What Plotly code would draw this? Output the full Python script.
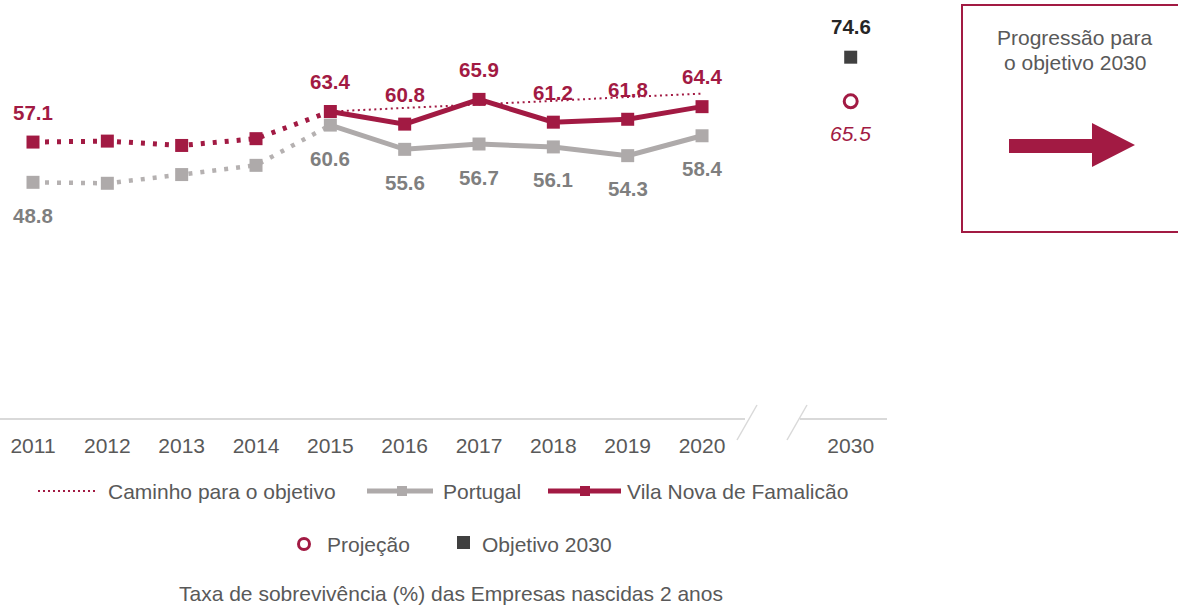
import plotly.graph_objects as go

# ---------------- data ----------------
years = ["2011", "2012", "2013", "2014", "2015", "2016", "2017", "2018", "2019", "2020"]
vila = [57.1, 57.3, 56.4, 57.8, 63.4, 60.8, 65.9, 61.2, 61.8, 64.4]
portugal = [48.8, 48.6, 50.4, 52.3, 60.6, 55.6, 56.7, 56.1, 54.3, 58.4]
caminho_years = ["2015", "2016", "2017", "2018", "2019", "2020"]
caminho = [63.4, 64.1, 64.9, 65.6, 66.4, 67.1]
target_year = "2030"
objetivo_2030 = [74.6]
projecao_2030 = [65.5]
unlabelled_years = ["2012", "2013", "2014"]
tick_labels = years + [target_year]

# ---------------- style ----------------
W, H = 1178, 605
CRIMSON = "#A21A43"
GRAY = "#AEAAAA"
GRAY_DOT = "#B5B1B1"
GRAY_TXT = "#7F7F7F"
DARK = "#404040"
TXT = "#595959"
AXIS = "#D9D9D9"
FONT = "Liberation Sans, Arial, sans-serif"

# categorical positions: one empty slot between 2020 and 2030 (axis break)
pos = {y: i for i, y in enumerate(years)}
pos[target_year] = len(years) + 1


def X(ys):
    return [pos[y] for y in ys]


def px(x):
    return x / W


def py(y):
    return 1 - y / H


fig = go.Figure()

hist = years[:5]
recent = years[4:]

# Portugal: dotted history + solid recent
fig.add_trace(go.Scatter(x=X(hist), y=portugal[:5], mode="lines",
                         line=dict(color=GRAY_DOT, width=4.5, dash="4px,8px"),
                         hoverinfo="skip", showlegend=False))
fig.add_trace(go.Scatter(x=X(recent), y=portugal[4:], mode="lines",
                         line=dict(color=GRAY, width=5),
                         showlegend=False))
fig.add_trace(go.Scatter(x=X(years), y=portugal, mode="markers",
                         marker=dict(symbol="square", size=13, color=GRAY),
                         name="Portugal", showlegend=False))

# path to objective
fig.add_trace(go.Scatter(x=X(caminho_years), y=caminho, mode="lines",
                         line=dict(color=CRIMSON, width=2, dash="2px,3.5px"),
                         name="Caminho para o objetivo", showlegend=False))

# Vila Nova de Famalicão: dotted history + solid recent
fig.add_trace(go.Scatter(x=X(hist), y=vila[:5], mode="lines",
                         line=dict(color=CRIMSON, width=5, dash="4px,8px"),
                         hoverinfo="skip", showlegend=False))
fig.add_trace(go.Scatter(x=X(recent), y=vila[4:], mode="lines",
                         line=dict(color=CRIMSON, width=5),
                         showlegend=False))
fig.add_trace(go.Scatter(x=X(years), y=vila, mode="markers",
                         marker=dict(symbol="square", size=13, color=CRIMSON),
                         name="Vila Nova de Famalicão", showlegend=False))

# 2030 objective and projection
fig.add_trace(go.Scatter(x=X([target_year]), y=objetivo_2030, mode="markers",
                         marker=dict(symbol="square", size=13, color=DARK),
                         name="Objetivo 2030", showlegend=False))
fig.add_trace(go.Scatter(x=X([target_year]), y=projecao_2030, mode="markers",
                         marker=dict(symbol="circle-open", size=13, color=CRIMSON,
                                     line=dict(width=3, color=CRIMSON)),
                         name="Projeção", showlegend=False))

annotations = []
# data labels
for y, v in zip(years, vila):
    if y in unlabelled_years:
        continue
    annotations.append(dict(x=pos[y], y=v, xref="x", yref="y", text=f"{v:.1f}",
                            showarrow=False, yshift=30,
                            font=dict(family=FONT, size=20.5, color=CRIMSON, weight="bold")))
for y, v in zip(years, portugal):
    if y in unlabelled_years:
        continue
    annotations.append(dict(x=pos[y], y=v, xref="x", yref="y", text=f"{v:.1f}",
                            showarrow=False, yshift=-33,
                            font=dict(family=FONT, size=20.5, color=GRAY_TXT, weight="bold")))
annotations.append(dict(x=pos[target_year], y=objetivo_2030[0], xref="x", yref="y",
                        text=f"{objetivo_2030[0]:.1f}", showarrow=False, yshift=31,
                        font=dict(family=FONT, size=20.5, color="#262626", weight="bold")))
annotations.append(dict(x=pos[target_year], y=projecao_2030[0], xref="x", yref="y",
                        text=f"<i>{projecao_2030[0]:.1f}</i>", showarrow=False, yshift=-32,
                        font=dict(family=FONT, size=21, color=CRIMSON)))

shapes = []
# broken x axis
shapes += [
    dict(type="line", xref="paper", yref="paper", x0=px(0), x1=px(745), y0=py(419), y1=py(419),
         line=dict(color=AXIS, width=2)),
    dict(type="line", xref="paper", yref="paper", x0=px(737), x1=px(757), y0=py(440), y1=py(405),
         line=dict(color=AXIS, width=1.5)),
    dict(type="line", xref="paper", yref="paper", x0=px(787), x1=px(807), y0=py(440), y1=py(405),
         line=dict(color=AXIS, width=1.5)),
    dict(type="line", xref="paper", yref="paper", x0=px(800), x1=px(887), y0=py(419), y1=py(419),
         line=dict(color=AXIS, width=2)),
]

# legend row 1
LY1 = 491
shapes.append(dict(type="line", xref="paper", yref="paper", x0=px(38), x1=px(96), y0=py(LY1), y1=py(LY1),
                   line=dict(color=CRIMSON, width=2, dash="2px,3px")))
shapes.append(dict(type="line", xref="paper", yref="paper", x0=px(367), x1=px(433), y0=py(LY1), y1=py(LY1),
                   line=dict(color=GRAY, width=5)))
shapes.append(dict(type="rect", xref="paper", yref="paper", x0=px(397), x1=px(407), y0=py(486), y1=py(496),
                   line=dict(width=0), fillcolor=GRAY))
shapes.append(dict(type="line", xref="paper", yref="paper", x0=px(548), x1=px(621), y0=py(LY1), y1=py(LY1),
                   line=dict(color=CRIMSON, width=5)))
shapes.append(dict(type="rect", xref="paper", yref="paper", x0=px(580), x1=px(590), y0=py(486), y1=py(496),
                   line=dict(width=0), fillcolor=CRIMSON))
for x, t in [(106, "Caminho para o objetivo"), (441, "Portugal"), (625, "Vila Nova de Famalicão")]:
    annotations.append(dict(x=px(x), y=py(LY1), xref="paper", yref="paper", text=t, showarrow=False,
                            xanchor="left", yanchor="middle", font=dict(family=FONT, size=21, color=TXT)))
# legend row 2
LY2 = 544
shapes.append(dict(type="circle", xref="paper", yref="paper", x0=px(298.5), x1=px(309.5), y0=py(538.5),
                   y1=py(549.5), line=dict(color=CRIMSON, width=3), fillcolor="white"))
shapes.append(dict(type="rect", xref="paper", yref="paper", x0=px(457), x1=px(470), y0=py(536), y1=py(549),
                   line=dict(width=0), fillcolor=DARK))
for x, t in [(325, "Projeção"), (480, "Objetivo 2030")]:
    annotations.append(dict(x=px(x), y=py(LY2), xref="paper", yref="paper", text=t, showarrow=False,
                            xanchor="left", yanchor="middle", font=dict(family=FONT, size=21, color=TXT)))
# title at bottom
annotations.append(dict(x=px(451), y=py(593), xref="paper", yref="paper",
                        text="Taxa de sobrevivência (%) das Empresas nascidas 2 anos",
                        showarrow=False, xanchor="center", yanchor="middle",
                        font=dict(family=FONT, size=21, color=TXT)))

# side box
shapes.append(dict(type="rect", xref="paper", yref="paper", x0=px(962), x1=px(1185), y0=py(5), y1=py(232),
                   line=dict(color=CRIMSON, width=2), fillcolor="rgba(0,0,0,0)"))
arrow_pts = [(1009, 139), (1092, 139), (1092, 123), (1135, 145), (1092, 167), (1092, 153), (1009, 153)]
path = "M" + " L".join(f"{px(a):.5f},{py(b):.5f}" for a, b in arrow_pts) + " Z"
shapes.append(dict(type="path", xref="paper", yref="paper", path=path, fillcolor=CRIMSON,
                   line=dict(width=0)))
annotations.append(dict(x=px(1075), y=py(38), xref="paper", yref="paper", text="Progressão para",
                        showarrow=False, xanchor="center", yanchor="middle",
                        font=dict(family=FONT, size=21, color=TXT)))
annotations.append(dict(x=px(1075), y=py(63), xref="paper", yref="paper", text="o objetivo 2030",
                        showarrow=False, xanchor="center", yanchor="middle",
                        font=dict(family=FONT, size=21, color=TXT)))

x_scale = (850.7 - 33) / 11
fig.update_layout(
    width=W, height=H,
    margin=dict(l=0, r=0, t=0, b=0),
    paper_bgcolor="white", plot_bgcolor="white",
    showlegend=False,
    xaxis=dict(domain=[0, 887 / W], range=[-33 / x_scale, (887 - 33) / x_scale],
               tickmode="array", tickvals=X(tick_labels), ticktext=tick_labels,
               showgrid=False, zeroline=False, showline=False, ticks="",
               ticklabelstandoff=12,
               tickfont=dict(family=FONT, size=21, color=TXT), fixedrange=True),
    yaxis=dict(domain=[1 - 419 / H, 1], range=[0, 419 / 4.85], visible=False,
               showgrid=False, zeroline=False, fixedrange=True),
    shapes=shapes,
    annotations=annotations,
)

fig.write_html("out.html", config={"displayModeBar": False},
               post_script="document.body.style.margin='0';document.body.style.overflow='hidden';")
